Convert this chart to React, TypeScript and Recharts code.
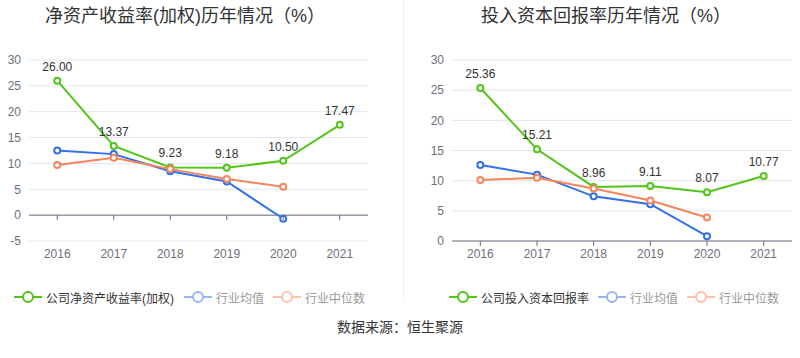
import React from "react";
import { LineChart, Line, XAxis, YAxis, CartesianGrid, ReferenceLine, LabelList } from "recharts";

const years = ["2016", "2017", "2018", "2019", "2020", "2021"];

const roeCompany = [26.0, 13.37, 9.23, 9.18, 10.5, 17.47];
const roeIndustryAvg = [12.5, 11.8, 8.5, 6.5, -0.7, null];
const roeIndustryMedian = [9.7, 11.1, 8.9, 7.0, 5.5, null];

const roicCompany = [25.36, 15.21, 8.96, 9.11, 8.07, 10.77];
const roicIndustryAvg = [12.6, 11.0, 7.4, 6.1, 0.8, null];
const roicIndustryMedian = [10.1, 10.5, 8.7, 6.7, 3.9, null];

const roeTicks = [-5, 0, 5, 10, 15, 20, 25, 30];
const roicTicks = [0, 5, 10, 15, 20, 25, 30];

const GREEN = "#52c41a";
const BLUE = "#3370e8";
const ORANGE = "#f7845a";
const AXIS = "#6e7079";
const FONT = "'Liberation Sans', 'Noto Sans CJK SC', sans-serif";

const CHART_H = 280;
const PLOT_TOP = 60;
const PLOT_BOTTOM = 241;

function buildRows(company: number[], avg: (number | null)[], median: (number | null)[]) {
  return years.map((y, i) => ({ year: y, company: company[i], avg: avg[i], median: median[i] }));
}

function makeTick(zeroY: number) {
  return (props: any) => {
    const { x, payload } = props;
    return (
      <g>
        <line x1={x} x2={x} y1={zeroY} y2={zeroY + 5} stroke={AXIS} />
        <text x={x} y={PLOT_BOTTOM + 17} textAnchor="middle" fill={AXIS} fontSize={12} fontFamily={FONT}>
          {payload.value}
        </text>
      </g>
    );
  };
}

function Panel({ rows, ticks, yWidth, right }: { rows: any[]; ticks: number[]; yWidth: number; right: number }) {
  const min = ticks[0];
  const max = ticks[ticks.length - 1];
  const zeroY = PLOT_TOP + ((PLOT_BOTTOM - PLOT_TOP) * max) / (max - min);
  const plotW = 400 - yWidth - right;
  const half = plotW / years.length / 2;
  const dot = (c: string) => ({ r: 3, stroke: c, strokeWidth: 2, fill: "#fff" });
  return (
    <LineChart width={400} height={CHART_H} data={rows} margin={{ top: PLOT_TOP, right, bottom: CHART_H - PLOT_BOTTOM - 30, left: 0 }}>
      <CartesianGrid vertical={false} stroke="#e0e6f1" />
      <XAxis
        dataKey="year"
        height={30}
        axisLine={false}
        tickLine={false}
        tick={makeTick(zeroY)}
        interval={0}
        padding={{ left: half, right: half }}
      />
      <YAxis
        width={yWidth}
        domain={[min, max]}
        ticks={ticks}
        axisLine={false}
        tickLine={false}
        tickSize={0}
        tickMargin={8}
        tick={{ fill: AXIS, fontSize: 12, fontFamily: FONT }}
      />
      <ReferenceLine y={0} stroke={AXIS} />
      <Line dataKey="company" stroke={GREEN} strokeWidth={2} dot={dot(GREEN)} isAnimationActive={false}>
        <LabelList dataKey="company" position="top" offset={10} fill="#333" fontSize={12} fontFamily={FONT} formatter={(v: any) => Number(v).toFixed(2)} />
      </Line>
      <Line dataKey="avg" stroke={BLUE} strokeWidth={2} dot={dot(BLUE)} isAnimationActive={false} />
      <Line dataKey="median" stroke={ORANGE} strokeWidth={2} dot={dot(ORANGE)} isAnimationActive={false} />
    </LineChart>
  );
}

function LegendItem({ color, label, active, left }: { color: string; label: string; active: boolean; left: number }) {
  return (
    <div style={{ position: "absolute", left, top: 289, display: "flex", alignItems: "center", height: 16 }}>
      <svg width={28} height={16} style={{ opacity: active ? 1 : 0.5 }}>
        <line x1={0} x2={28} y1={8} y2={8} stroke={color} strokeWidth={2} />
        <circle cx={14} cy={8} r={5} fill="#fff" stroke={color} strokeWidth={2} />
      </svg>
      <span style={{ marginLeft: 4, fontSize: 12, color: active ? "#333" : "#999", fontFamily: FONT, whiteSpace: "nowrap" }}>{label}</span>
    </div>
  );
}

export default function App() {
  const roeRows = buildRows(roeCompany, roeIndustryAvg, roeIndustryMedian);
  const roicRows = buildRows(roicCompany, roicIndustryAvg, roicIndustryMedian);
  return (
    <div style={{ position: "absolute", left: 0, top: 0, width: 800, height: 358, background: "#fff", overflow: "hidden" }}>
      <div style={{ position: "absolute", left: 0, top: 1, width: 370, textAlign: "center", fontSize: 18, color: "#333", fontFamily: FONT }}>
        净资产收益率(加权)历年情况（%）
      </div>
      <div style={{ position: "absolute", left: 406, top: 1, width: 400, textAlign: "center", fontSize: 18, color: "#333", fontFamily: FONT }}>
        投入资本回报率历年情况（%）
      </div>
      <div style={{ position: "absolute", left: 403, top: 0, width: 1, height: 298, background: "#eeeeee" }} />
      <div style={{ position: "absolute", left: 0, top: 0 }}>
        <Panel rows={roeRows} ticks={roeTicks} yWidth={29} right={32} />
      </div>
      <div style={{ position: "absolute", left: 400, top: 0 }}>
        <Panel rows={roicRows} ticks={roicTicks} yWidth={52} right={8} />
      </div>
      <LegendItem color={GREEN} label="公司净资产收益率(加权)" active left={14} />
      <LegendItem color={BLUE} label="行业均值" active={false} left={184} />
      <LegendItem color={ORANGE} label="行业中位数" active={false} left={273} />
      <LegendItem color={GREEN} label="公司投入资本回报率" active left={449} />
      <LegendItem color={BLUE} label="行业均值" active={false} left={598} />
      <LegendItem color={ORANGE} label="行业中位数" active={false} left={687} />
      <div style={{ position: "absolute", left: 0, top: 316, width: 800, textAlign: "center", fontSize: 14, color: "#333", fontFamily: FONT }}>
        数据来源：恒生聚源
      </div>
    </div>
  );
}
